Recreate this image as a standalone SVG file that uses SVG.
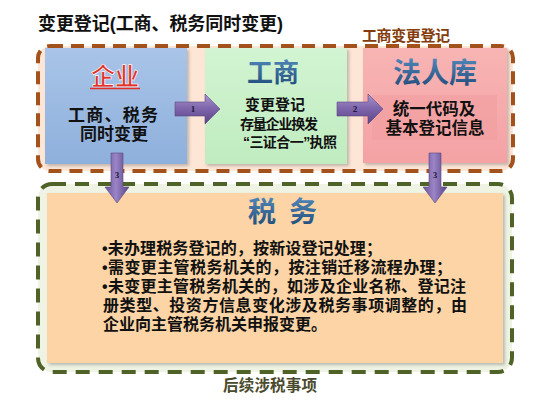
<svg xmlns="http://www.w3.org/2000/svg" width="547" height="402" viewBox="0 0 547 402">
<defs>
<style>
text{font-family:"Liberation Sans","Noto Sans CJK SC",sans-serif;font-weight:bold;}
.c{text-anchor:middle;}
.blk{fill:#111;}
.num{font-family:"Liberation Serif",serif;font-size:9px;fill:#1a1a40;text-anchor:middle;}
.arrow{stroke:#5a4680;stroke-width:0.6;}
</style>
<linearGradient id="gBlue" x1="0" y1="0" x2="0" y2="1"><stop offset="0" stop-color="#a9c4e8"/><stop offset="1" stop-color="#8eb0dc"/></linearGradient>
<linearGradient id="gGreen" x1="0" y1="0" x2="0" y2="1"><stop offset="0" stop-color="#d2f4d2"/><stop offset="1" stop-color="#c0ecc0"/></linearGradient>
<linearGradient id="gPink" x1="0" y1="0" x2="0" y2="1"><stop offset="0" stop-color="#f8b4b4"/><stop offset="1" stop-color="#f4a2a4"/></linearGradient>
<linearGradient id="gTitle" x1="0" y1="0" x2="0" y2="1"><stop offset="0" stop-color="#4f86b8"/><stop offset="1" stop-color="#1f4a78"/></linearGradient>
<linearGradient id="gArrH" x1="0" y1="0" x2="0" y2="1"><stop offset="0" stop-color="#a896cc"/><stop offset="0.5" stop-color="#7d63aa"/><stop offset="1" stop-color="#5a4488"/></linearGradient>
<linearGradient id="gArrV" x1="0" y1="0" x2="1" y2="0"><stop offset="0" stop-color="#6a519a"/><stop offset="0.45" stop-color="#9b85c6"/><stop offset="1" stop-color="#5a4488"/></linearGradient>
<filter id="sh" x="-5%" y="-5%" width="112%" height="115%"><feDropShadow dx="2" dy="2" stdDeviation="1.5" flood-color="#555" flood-opacity="0.35"/></filter>
</defs>

<rect width="547" height="402" fill="#ffffff"/>

<g id="title">
<text x="38" y="30" font-size="18" class="blk" textLength="245" lengthAdjust="spacing">变更登记(工商、税务同时变更)</text>
</g>

<g id="frame-business">
<rect x="38" y="46" width="475" height="125" rx="12" fill="#fde6d6" stroke="#a3521c" stroke-width="4" stroke-dasharray="13 8"/>
<text x="362" y="41" font-size="15" fill="#843c0c" textLength="88" lengthAdjust="spacing">工商变更登记</text>
</g>

<g id="node-enterprise">
<rect x="45" y="48" width="142" height="116" fill="url(#gBlue)" filter="url(#sh)"/>
<text x="115" y="85" font-size="24" class="c" fill="#e0302a" stroke="#ffffff" stroke-width="0.6">企业</text>
<line x1="90" y1="88.5" x2="140" y2="88.5" stroke="#e0302a" stroke-width="1.6"/>
<text font-size="17" class="blk"><tspan x="68" y="121" textLength="90" lengthAdjust="spacing">工商、税务</tspan><tspan x="114" y="140" text-anchor="middle">同时变更</tspan></text>
</g>

<g id="node-gongshang">
<rect x="205" y="48" width="142" height="116" fill="url(#gGreen)" filter="url(#sh)"/>
<text x="273" y="82" font-size="26" class="c" fill="url(#gTitle)">工商</text>
<text font-size="14" class="blk"><tspan x="275" y="110" font-size="15" text-anchor="middle">变更登记</tspan><tspan x="240" y="129" textLength="78" lengthAdjust="spacing">存量企业换发</tspan><tspan x="243" y="147" textLength="94" lengthAdjust="spacing">“三证合一”执照</tspan></text>
</g>

<g id="node-farenku">
<rect x="363" y="48" width="144" height="115" fill="url(#gPink)" filter="url(#sh)"/>
<rect x="372" y="95" width="125" height="45" fill="#f09c9e" opacity="0.55"/>
<text x="435" y="83" font-size="28" class="c" fill="url(#gTitle)">法人库</text>
<text font-size="16.5" class="c blk"><tspan x="434" y="115">统一代码及</tspan><tspan x="435" y="134">基本登记信息</tspan></text>
</g>

<g id="frame-tax">
<rect x="38" y="184" width="474" height="188" rx="14" fill="#eef3e3" stroke="#4f6228" stroke-width="4" stroke-dasharray="14 9"/>
<text x="223" y="391" font-size="15.5" fill="#4a4a2c" textLength="94" lengthAdjust="spacing">后续涉税事项</text>
</g>

<g id="node-tax">
<rect x="47" y="193" width="456" height="170" fill="#fcd4a5" filter="url(#sh)"/>
<text font-size="28" fill="url(#gTitle)"><tspan x="248" y="222">税</tspan><tspan x="289" y="222">务</tspan></text>
<text font-size="16" class="blk"><tspan x="102" y="254" textLength="280" lengthAdjust="spacing">•未办理税务登记的，按新设登记处理；</tspan><tspan x="102" y="273" textLength="350" lengthAdjust="spacing">•需变更主管税务机关的，按注销迁移流程办理；</tspan><tspan x="102" y="292" textLength="364" lengthAdjust="spacing">•未变更主管税务机关的，如涉及企业名称、登记注</tspan><tspan x="103" y="311" textLength="364" lengthAdjust="spacing">册类型、投资方信息变化涉及税务事项调整的，由</tspan><tspan x="103" y="330" textLength="224" lengthAdjust="spacing">企业向主管税务机关申报变更。</tspan></text>
</g>

<g id="connectors">
<path class="arrow" d="M175,102 H205 V94 L220,109 L205,124 V116 H175 Z" fill="url(#gArrH)"/>
<text class="num" x="193" y="112">1</text>
<path class="arrow" d="M337,102 H368 V94 L383,109 L368,124 V116 H337 Z" fill="url(#gArrH)"/>
<text class="num" x="355" y="112">2</text>
<path class="arrow" d="M111,153 V187 H105 L117,203 L129,187 H123 V153 Z" fill="url(#gArrV)"/>
<text class="num" x="117" y="178">3</text>
<path class="arrow" d="M429,153 V187 H423 L435,203 L447,187 H441 V153 Z" fill="url(#gArrV)"/>
<text class="num" x="435" y="178">3</text>
</g>
</svg>
